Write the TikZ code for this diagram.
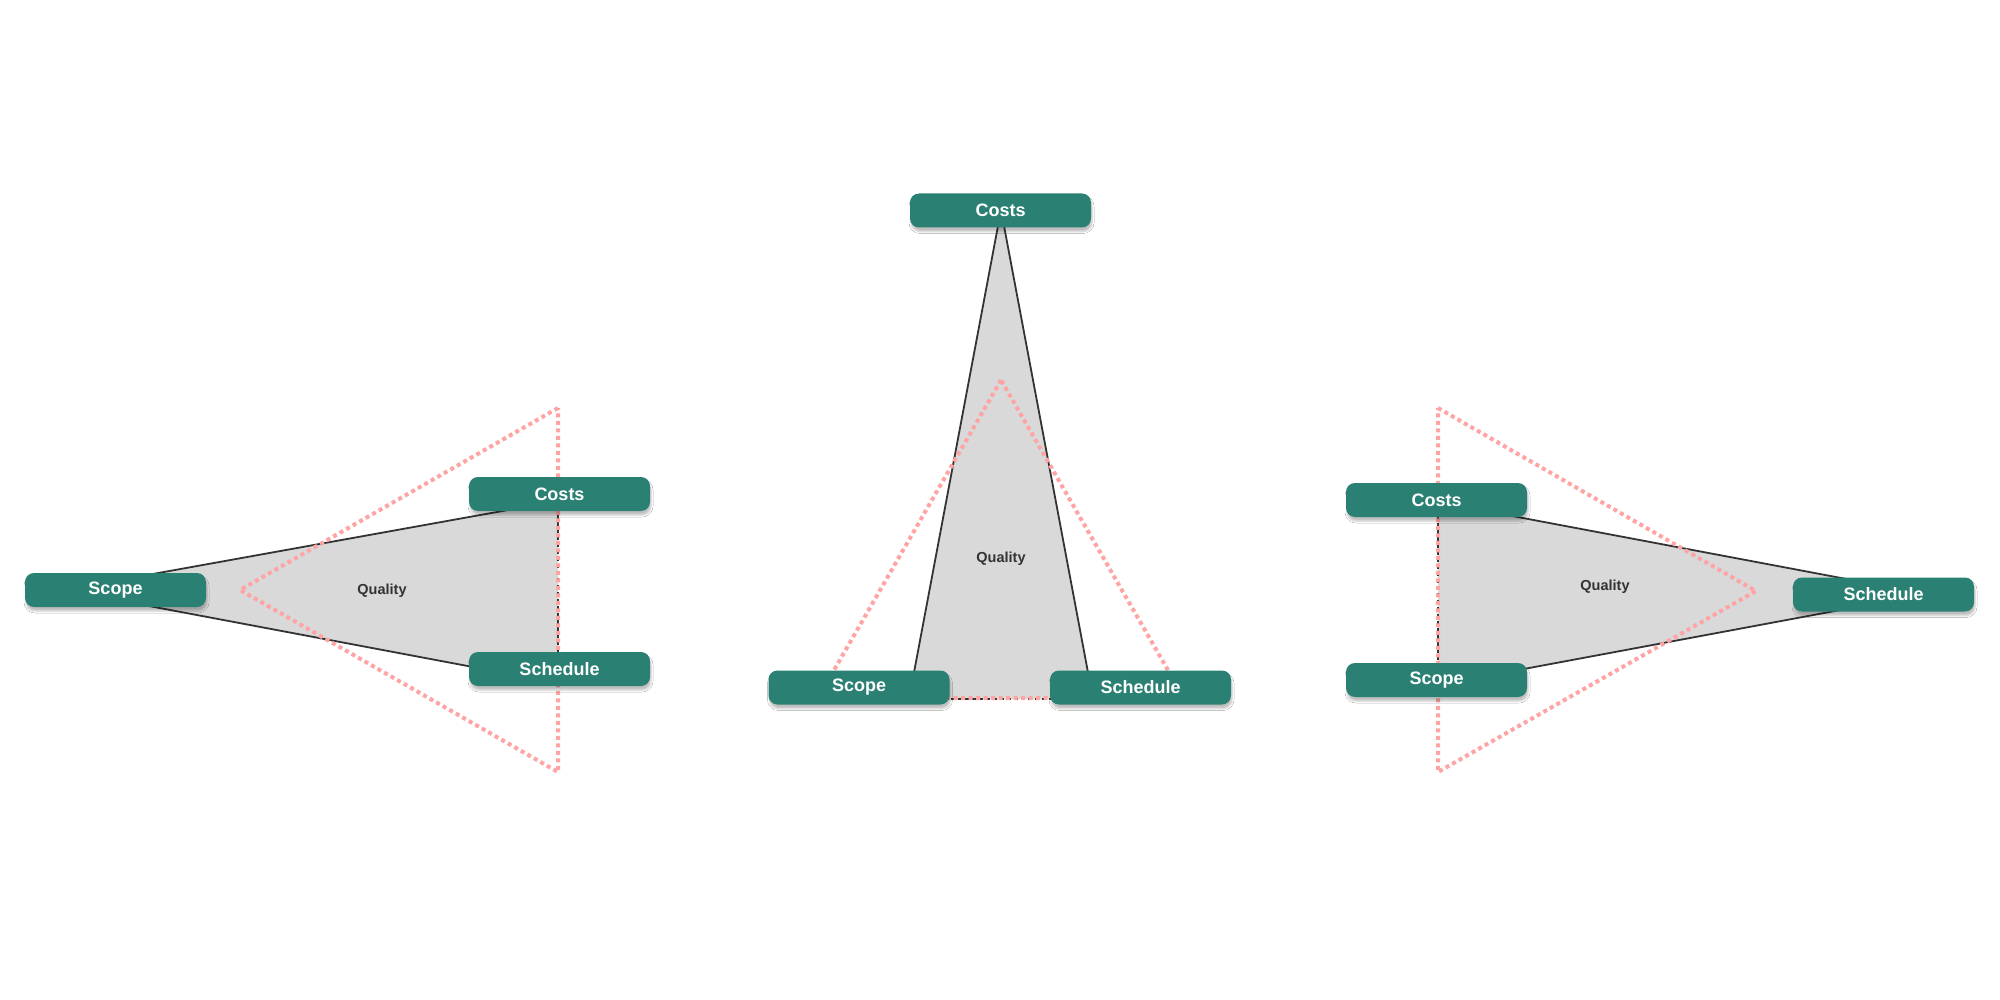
\documentclass[tikz,border=0pt]{standalone}
\usepackage{fontspec}
\setmainfont{Liberation Sans}
\usetikzlibrary{shadows.blur}
\definecolor{teal1}{RGB}{42,128,114}
\definecolor{greyfill}{RGB}{217,217,217}
\definecolor{pinkdot}{RGB}{255,164,164}
\definecolor{edgec}{RGB}{51,51,51}
\pgfdeclarelayer{bg}
\pgfsetlayers{bg,main}
\begin{document}
\begin{tikzpicture}[x=1pt,y=-1pt,
  box/.style={rectangle, rounded corners=9pt, fill=teal1, text=white,
    minimum width=181pt, minimum height=34pt, inner sep=0pt,
    font=\fontsize{18}{20}\selectfont\bfseries,
    blur shadow={shadow xshift=1pt, shadow yshift=-4pt, shadow blur radius=2pt, shadow blur extra rounding=2pt, shadow opacity=25}},
  area/.style={fill=greyfill, draw=none},
  side/.style={draw=edgec, line width=1.8pt},
  hiddenside/.style={draw=edgec, line width=1.6pt, dash pattern=on 4pt off 3pt},
  pinkline/.style={draw=pinkdot, line width=4pt, dash pattern=on 4pt off 3.5pt},
  qlabel/.style={text=edgec, font=\fontsize{14.5}{16}\selectfont\bfseries}]
\useasboundingbox (0,0) rectangle (2000,1000);

% ---------- left diagram ----------
\node[box] (LScope) at (115.5,590) {Scope};
\node[box] (LCosts) at (559.5,494) {Costs};
\node[box] (LSched) at (559.5,669) {Schedule};
\coordinate (lA) at (64,590);
\coordinate (lB) at (558,501);
\coordinate (lC) at (558,683);
\coordinate (lP1) at (558,408);
\coordinate (lP2) at (240,590);
\coordinate (lP3) at (558,772);
\node[qlabel] (LQual) at (382,591) {Quality};

% ---------- middle diagram ----------
\node[box] (MCosts) at (1000.5,210.5) {Costs};
\node[box] (MScope) at (859,687.5) {Scope};
\node[box] (MSched) at (1140.5,687.5) {Schedule};
\coordinate (mA) at (1001,210);
\coordinate (mB) at (909,699);
\coordinate (mC) at (1093,699);
\coordinate (mP1) at (1001,380);
\coordinate (mP2) at (818,698);
\coordinate (mP3) at (1184,698);
\node[qlabel] (MQual) at (1001,559) {Quality};

% ---------- right diagram ----------
\node[box] (RCosts) at (1436.5,500) {Costs};
\node[box] (RScope) at (1436.5,680) {Scope};
\node[box] (RSched) at (1883.5,594.5) {Schedule};
\coordinate (rA) at (1926,594);
\coordinate (rB) at (1438,502);
\coordinate (rC) at (1438,685);
\coordinate (rP1) at (1438,408);
\coordinate (rP2) at (1756,591);
\coordinate (rP3) at (1438,772);
\node[qlabel] (RQual) at (1605,587) {Quality};

\begin{pgfonlayer}{bg}
  \fill[white] (0,0) rectangle (2000,1000);
  % grey areas
  \path[area] (lA) -- (lB) -- (lC) -- cycle;
  \path[area] (mA) -- (mB) -- (mC) -- cycle;
  \path[area] (rA) -- (rB) -- (rC) -- cycle;
  % solid sides
  \draw[side] (lB) -- (lA) -- (lC);
  \draw[side] (mB) -- (mA) -- (mC);
  \draw[side] (rB) -- (rA) -- (rC);
  % dashed sides
  \draw[hiddenside] (lB) -- (lC);
  \draw[hiddenside] (mB) -- (mC);
  \draw[hiddenside] (rB) -- (rC);
  % pink dotted triangles
  \draw[pinkline] (lP1) -- (lP2) -- (lP3) -- cycle;
  \draw[pinkline] (mP1) -- (mP2) -- (mP3) -- cycle;
  \draw[pinkline] (rP1) -- (rP2) -- (rP3) -- cycle;
\end{pgfonlayer}
\end{tikzpicture}
\end{document}
